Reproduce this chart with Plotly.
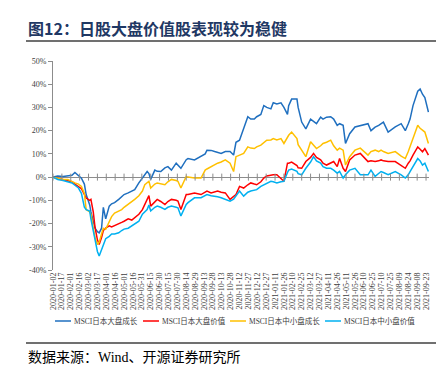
import plotly.graph_objects as go
import pandas as pd

dates = [
    "2020-01-02","2020-01-10","2020-01-19","2020-01-27","2020-02-03","2020-02-08","2020-02-14","2020-02-19",
    "2020-02-24","2020-02-27","2020-03-04","2020-03-06","2020-03-10","2020-03-13","2020-03-17","2020-03-20",
    "2020-03-24","2020-03-27","2020-03-31","2020-04-06","2020-04-10","2020-04-15","2020-04-22","2020-04-27",
    "2020-05-01","2020-05-08","2020-05-14","2020-05-19","2020-05-26","2020-06-01","2020-06-05","2020-06-09",
    "2020-06-12","2020-06-15","2020-06-22","2020-06-26","2020-07-02","2020-07-09","2020-07-14","2020-07-20",
    "2020-07-28","2020-07-31","2020-08-05","2020-08-14","2020-08-17","2020-08-28","2020-09-08","2020-09-15",
    "2020-09-18","2020-09-25","2020-10-01","2020-10-06","2020-10-12","2020-10-19","2020-10-27","2020-11-02",
    "2020-11-06","2020-11-12","2020-11-19","2020-11-26","2020-12-01","2020-12-07","2020-12-11","2020-12-18",
    "2020-12-23","2020-12-28","2021-01-04","2021-01-08","2021-01-14","2021-01-21","2021-01-26","2021-02-01",
    "2021-02-03","2021-02-08","2021-02-17","2021-02-19","2021-02-25","2021-03-04","2021-03-12","2021-03-17",
    "2021-03-22","2021-03-29","2021-04-02","2021-04-08","2021-04-15","2021-04-20","2021-04-26","2021-04-30",
    "2021-05-06","2021-05-10","2021-05-17","2021-05-26","2021-06-04","2021-06-17","2021-06-22","2021-06-29",
    "2021-07-05","2021-07-09","2021-07-13","2021-07-21","2021-08-02","2021-08-12","2021-08-19","2021-08-24",
    "2021-08-27","2021-09-01","2021-09-06","2021-09-09","2021-09-13","2021-09-17","2021-09-21","2021-09-27",
]

large_growth = [
    0, 0.5, 0.3, 0.5, 0.8, 2.0, 0.5, -0.5,
    -3, -7.5, -12, -15, -19, -22, -23.5, -24,
    -22, -13, -18, -12.5, -11.5, -11, -9.6, -8.5,
    -7.5, -6.8, -6, -5.4, -2.5, -0.5, 1, 2.4,
    1.5, -1, 3, 2.5, 2.4, 4, 4.5, 3,
    6, 5, 3.8, 7.5, 8, 7.4, 8.8, 10,
    11.6, 11.5, 11, 10.5, 10.2, 11, 11, 9.5,
    15, 15.9, 20.8, 26, 25, 25, 26, 27,
    30.8, 30, 29.4, 32, 31.5, 32, 30, 27,
    30.8, 33.6, 33.6, 30, 23.7, 20.8, 25, 24,
    23, 25.8, 25, 25.8, 26, 25, 22.3, 23,
    22.3, 14.5, 18.7, 21.6, 22.3, 23, 20, 21.5,
    22.3, 23, 23.7, 19.4, 21.6, 23, 20, 23,
    25, 30.8, 35, 37, 37.9, 35.7, 34.3, 28,
]

large_value = [
    0, -0.5, -1, -1.5, -2, -3, -4, -5,
    -7.5, -9, -10, -9.6, -15, -21.7, -27, -29,
    -26, -23, -22, -21, -21.5, -21, -20, -19.5,
    -19, -18, -18.5, -17.4, -16, -14, -11.8, -10,
    -8, -12.5, -10.5, -9.6, -10.5, -11.8, -10.5, -9.6,
    -10, -10.3, -13.9, -7.5, -7.5, -6.8, -7.5, -6.5,
    -6, -6.8, -6.3, -6, -6.5, -6.8, -9.6, -8.5,
    -7.5, -4, -4.7, -3.3, -2.5, -3, -3.3, -2,
    -0.4, 0.5, 1, 1, 1, -0.5, -1.8, 6,
    6, 6.5, 5, 4, 3.8, 6.7, 8.5, 10.2,
    8.5, 7.4, 6, 5.2, 6, 6.7, 4.5, 8,
    3.8, 2.4, 7.4, 9.5, 10.2, 6.7, 7, 6.7,
    7, 7.4, 7, 6.7, 6.7, 5, 3.8, 6,
    7, 9.5, 11.5, 13, 12, 10.9, 12.3, 9.5,
]

small_growth = [
    0, -0.5, -1, -1, -2, -2.5, -3, -4,
    -7, -14, -15, -16, -22, -26, -29, -28,
    -24.5, -22, -22.5, -19.5, -17, -15.5, -14.6, -14,
    -13, -11.8, -10.5, -9.6, -8, -6, -3.3, -2.5,
    -1.8, -4.7, -3, -2.5, -3, -3.3, -2, -1,
    -1.5, -1.8, -4.7, 0.3, 0, -0.4, -0.4, 3,
    3.5, 4.5, 5.5, 6, 6.5, 7.4, 6, 2.4,
    8.8, 9.5, 10.2, 13, 12.5, 12.3, 13, 13.8,
    15, 15.9, 16, 16.6, 16, 16.6, 14.5, 17,
    18, 19.4, 16.6, 14, 11.6, 8.8, 15.2, 13.5,
    12.3, 13.5, 14.5, 15, 15.9, 13.5, 11.6, 12.5,
    11.6, 5.2, 8.8, 11.6, 12.5, 9.5, 11, 11.6,
    11, 11.6, 11, 10.2, 11, 9, 8, 11,
    13, 16.6, 20, 22.3, 21, 20, 19.4, 14.5,
]

small_value = [
    0, -1, -1.5, -2, -2.5, -3.5, -4.7, -7,
    -13, -14, -14.6, -18, -23, -28, -32, -34,
    -31, -29, -26.5, -25.5, -24.5, -24.5, -24, -23,
    -22.4, -22, -21, -20.5, -19, -16, -15, -14,
    -12, -14.6, -13, -12.5, -13, -13.9, -13, -12.5,
    -13, -13.2, -16.7, -11.8, -11, -8.9, -8.9, -8,
    -7.5, -8, -8.2, -8.5, -8.9, -9.5, -10.4, -9.5,
    -8.2, -6, -8.2, -6.5, -6, -5.8, -5.4, -4,
    -3.3, -2.5, -1.8, -2, -2.5, -2, -1.8, 2,
    3, 3.5, 2.5, 1.5, 1, 3.8, 6.5, 8.8,
    7, 6, 4.5, 3.8, 3.8, 3, 1.7, 2.5,
    -0.4, 1, 3, 3.8, 1, 1, 3, 0.3,
    1.5, 2.4, 2, 1, 2.4, 1, -0.4, 1,
    2.4, 4.5, 6.5, 8, 7, 5.2, 6, 2.4,
]

series_names = ["MSCI日本大盘成长", "MSCI日本大盘价值", "MSCI日本中小盘成长", "MSCI日本中小盘价值"]
series_values = [large_growth, large_value, small_growth, small_value]
series_colors = ["#1F6FBF", "#FF0000", "#FFC000", "#00B0F0"]

tick_dates = list(pd.date_range("2020-01-02", "2021-09-23", freq="15D"))
y_ticks = [-40, -30, -20, -10, 0, 10, 20, 30, 40, 50]
y_tick_labels = [f"{v}%" for v in y_ticks]

title_text = "图12：日股大盘价值股表现较为稳健"
source_text = "数据来源：Wind、开源证券研究所"

W, H = 444, 371
L, R, T, B = 45, 421, 53, 262

def px(x):
    return (x - L) / (R - L)

def py(y):
    return (B - y) / (B - T)

fig = go.Figure()
for name, vals, col in zip(series_names, series_values, series_colors):
    fig.add_trace(go.Scatter(x=dates, y=[v / 100 for v in vals], mode="lines", name=name,
                             line=dict(color=col, width=1.5), showlegend=False))

# tick marks on the zero axis
fig.add_trace(go.Scatter(x=tick_dates, y=[0] * len(tick_dates), mode="markers",
                         marker=dict(symbol="line-ns", size=5, line=dict(color="#8C8C8C", width=1)),
                         showlegend=False, hoverinfo="skip"))

fig.update_layout(
    width=W, height=H,
    margin=dict(l=L, r=W - R, t=T, b=H - B),
    paper_bgcolor="white", plot_bgcolor="white",
    showlegend=False,
    font=dict(family="Liberation Serif, Noto Sans CJK SC", size=8, color="#404040"),
)
fig.update_xaxes(
    type="date", range=["2020-01-02", "2021-09-28"],
    tickvals=tick_dates, tickformat="%Y-%m-%d", tickangle=-90,
    tickfont=dict(family="Liberation Serif", size=8, color="#404040"),
    showgrid=False, showline=False, ticks="", zeroline=False,
)
fig.update_yaxes(
    range=[-0.40, 0.50], tickvals=[v / 100 for v in y_ticks], ticktext=y_tick_labels,
    tickfont=dict(family="Liberation Serif", size=8, color="#404040"),
    showgrid=False, showline=True, linecolor="#8C8C8C", linewidth=1,
    ticks="outside", ticklen=4, tickcolor="#8C8C8C",
    zeroline=True, zerolinecolor="#8C8C8C", zerolinewidth=1,
)

shapes = []
annotations = []
# title + rule
annotations.append(dict(xref="paper", yref="paper", x=px(18), y=py(20), xanchor="left", yanchor="middle",
                        text="<b>" + title_text + "</b>", showarrow=False,
                        font=dict(family="Noto Sans CJK SC", size=16, color="#1F3864")))
shapes.append(dict(type="line", xref="paper", yref="paper", x0=px(18), x1=px(430), y0=py(33), y1=py(33),
                   line=dict(color="#404040", width=1.5)))
# source + rule
shapes.append(dict(type="line", xref="paper", yref="paper", x0=px(18), x1=px(430), y0=py(335), y1=py(335),
                   line=dict(color="#404040", width=1.5)))
annotations.append(dict(xref="paper", yref="paper", x=px(18), y=py(349), xanchor="left", yanchor="middle",
                        text=source_text, showarrow=False,
                        font=dict(family="Liberation Serif, Noto Sans CJK SC", size=14, color="#000000")))
# legend
leg_x = [47, 135, 222, 317]
for lx, name, col in zip(leg_x, series_names, series_colors):
    shapes.append(dict(type="line", xref="paper", yref="paper", x0=px(lx), x1=px(lx + 16), y0=py(313), y1=py(313),
                       line=dict(color=col, width=1.5)))
    annotations.append(dict(xref="paper", yref="paper", x=px(lx + 16.5), y=py(313), xanchor="left", yanchor="middle",
                            text=name, showarrow=False,
                            font=dict(family="Liberation Serif, Noto Sans CJK SC", size=7.5, color="#404040")))
fig.update_layout(shapes=shapes, annotations=annotations)

fig.write_html("out.html")
